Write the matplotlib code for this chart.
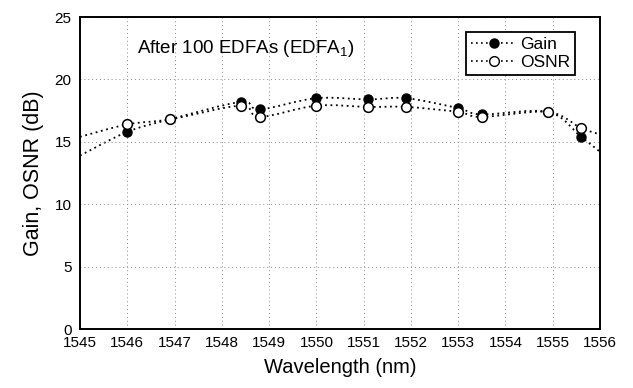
import numpy as np
import matplotlib
matplotlib.use('Agg')
import matplotlib.pyplot as plt
from matplotlib.path import Path
from matplotlib.patches import PathPatch
from matplotlib.lines import Line2D
from matplotlib import font_manager

plt.rcParams['font.family'] = ['Liberation Sans', 'DejaVu Sans']

# measured points
wl = [1546.0, 1546.9, 1548.4, 1548.8, 1550.0, 1551.1, 1551.9, 1553.0, 1553.5, 1554.9, 1555.6]
gain = [15.8, 16.8, 18.2, 17.6, 18.5, 18.4, 18.5, 17.7, 17.2, 17.4, 15.4]
osnr = [16.4, 16.8, 17.9, 17.0, 17.9, 17.8, 17.8, 17.4, 17.0, 17.4, 16.1]

# where the smooth fit curves meet the frame
wl_ends = [1545.0, 1556.0]
gain_ends = [13.9, 14.2]
osnr_ends = [15.4, 15.6]

xticks = list(range(1545, 1557))
yticks = [0, 5, 10, 15, 20, 25]

# narrow face for the tick numbers if it is there
names = set(f.name for f in font_manager.fontManager.ttflist)
tick_family = ['Liberation Sans Narrow', 'Liberation Sans'] if 'Liberation Sans Narrow' in names else ['Liberation Sans']
tick_size = 13 if 'Liberation Sans Narrow' in names else 11


def smooth_path(xs, ys):
	# catmull-rom through the points, drawn as cubic bezier segments
	pts = np.column_stack([xs, ys])
	verts = [pts[0]]
	codes = [Path.MOVETO]
	n = len(pts)
	for i in range(n - 1):
		p0 = pts[max(i - 1, 0)]
		p1 = pts[i]
		p2 = pts[i + 1]
		p3 = pts[min(i + 2, n - 1)]
		c1 = p1 + (p2 - p0) / 6.0
		c2 = p2 - (p3 - p1) / 6.0
		verts += [c1, c2, p2]
		codes += [Path.CURVE4] * 3
	return Path(verts, codes)


fig = plt.figure(figsize=(6.33, 3.88), dpi=100)
ax = fig.add_axes([0.1264, 0.152, 0.8215, 0.804])

for ys, ends in [(gain, gain_ends), (osnr, osnr_ends)]:
	xs = [wl_ends[0]] + wl + [wl_ends[1]]
	yy = [ends[0]] + ys + [ends[1]]
	ax.add_patch(PathPatch(smooth_path(xs, yy), facecolor='none', edgecolor='black',
		linestyle=(0, (1, 2)), linewidth=1.3, clip_on=True))

ax.plot(wl, gain, 'o', color='black', markersize=6.5, zorder=4)
ax.plot(wl, osnr, 'o', markerfacecolor='white', markeredgecolor='black', markeredgewidth=1.1,
	markersize=7, zorder=5)

ax.set_xlim(1545, 1556)
ax.set_ylim(0, 25)
ax.set_xticks(xticks)
ax.set_yticks(yticks)
ax.tick_params(length=0)
ax.tick_params(axis='x', pad=5)
ax.tick_params(axis='y', pad=6)
for lab in ax.get_xticklabels() + ax.get_yticklabels():
	lab.set_family(tick_family)
	lab.set_fontsize(tick_size)
ax.grid(True, color='#888888', linestyle=(0, (1, 3)), linewidth=0.7)
for s in ax.spines.values():
	s.set_linewidth(1.4)

ax.set_xlabel('Wavelength (nm)', fontsize=14.5, labelpad=6)
ax.set_ylabel('Gain, OSNR (dB)', fontsize=15.5, labelpad=8)

ax.text(1546.2, 22.5, 'After 100 EDFAs (EDFA$_\\mathregular{1}$)', fontsize=13.5, va='center')

h1 = Line2D([], [], color='black', linestyle=(0, (1, 2)), marker='o', markersize=6.5,
	markerfacecolor='black', linewidth=1.2)
h2 = Line2D([], [], color='black', linestyle=(0, (1, 2)), marker='o', markersize=7,
	markerfacecolor='white', linewidth=1.2)
leg = ax.legend([h1, h2], ['Gain', 'OSNR'], loc='upper right', bbox_to_anchor=(0.952, 0.952),
	borderaxespad=0, fontsize=12.5, fancybox=False, framealpha=1, edgecolor='black',
	handlelength=2.6, handletextpad=0.2, borderpad=0.3, labelspacing=0.15)
leg.get_frame().set_linewidth(1.3)

fig.savefig('out.png', dpi=100)
